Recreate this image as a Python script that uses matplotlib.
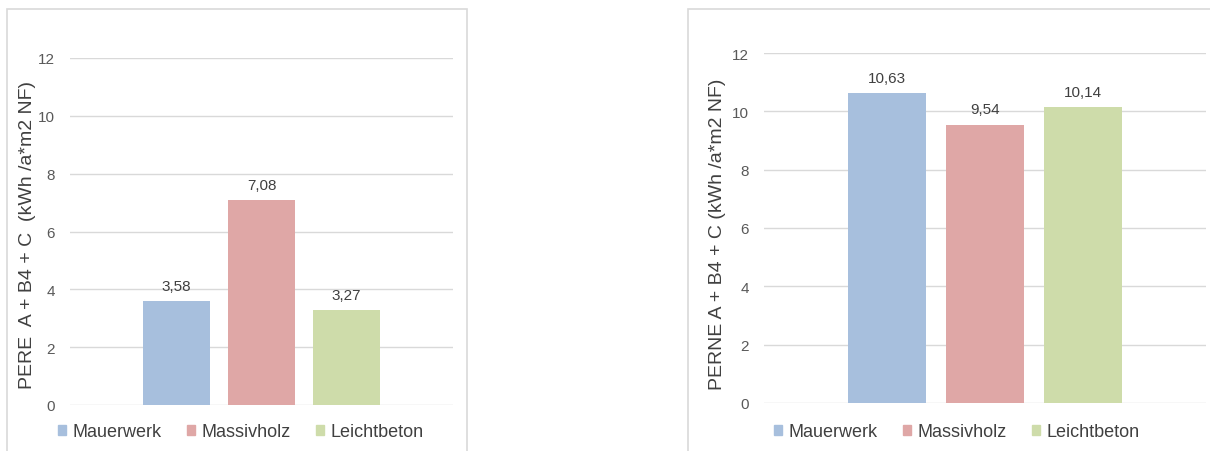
import numpy as np
import matplotlib.pyplot as plt
from matplotlib.patches import Rectangle, Patch

plt.rcParams['font.family'] = ['Liberation Sans', 'DejaVu Sans']

series = ['Mauerwerk', 'Massivholz', 'Leichtbeton']
colors = ['#a7bfdd', '#dfa7a6', '#cedcaa']
left_vals = [3.58, 7.08, 3.27]
right_vals = [10.63, 9.54, 10.14]
left_labels = ['3,58', '7,08', '3,27']
right_labels = ['10,63', '9,54', '10,14']
yticks = [0, 2, 4, 6, 8, 10, 12]

W, H = 1210, 452
fig = plt.figure(figsize=(W / 100, H / 100), dpi=100)

# panel borders
for x0, y0, x1, y1 in [(7, 10, 467, 460), (688, 10, 1220, 460)]:
    fig.patches.append(Rectangle((x0 / W, 1 - y1 / H), (x1 - x0) / W, (y1 - y0) / H,
                                 transform=fig.transFigure, fill=False,
                                 edgecolor='#d9d9d9', lw=1.2))

def panel(rect, vals, labels, ylabel, ylab_xy, leg_x):
    x0, ytop, x1, ybot = rect
    ax = fig.add_axes([x0 / W, 1 - ybot / H, (x1 - x0) / W, (ybot - ytop) / H])
    offs = np.array([-0.222, 0, 0.222])
    bars = ax.bar(offs, vals, width=0.175, color=colors, zorder=3)
    for b, t in zip(bars, labels):
        ax.annotate(t, (b.get_x() + b.get_width() / 2, b.get_height()),
                    xytext=(0, 6), textcoords='offset points',
                    ha='center', va='bottom', fontsize=11, color='#404040')
    ax.set_xlim(-0.5, 0.5)
    ax.set_ylim(0, 12)
    ax.set_yticks(yticks)
    ax.set_xticks([])
    ax.grid(axis='y', color='#d9d9d9', lw=1, zorder=0)
    for s in ax.spines.values():
        s.set_visible(False)
    ax.tick_params(axis='y', length=0, pad=11, labelsize=11, labelcolor='#595959')
    fig.text(ylab_xy[0] / W, 1 - ylab_xy[1] / H, ylabel, rotation=90,
             ha='center', va='center', fontsize=14, color='#404040')
    handles = [Patch(color=c) for c in colors]
    fig.legend(handles, series, loc='center', bbox_to_anchor=(leg_x / W, 1 - 433 / H),
               ncol=3, frameon=False, fontsize=13, handlelength=0.45, handleheight=0.45,
               handletextpad=0.35, columnspacing=1.4, labelcolor='#404040')
    return ax

panel((70, 59, 453, 406), left_vals, left_labels,
      'PERE  A + B4 + C  (kWh /a*m2 NF)', (28, 235), 241)
panel((764, 54, 1206, 404), right_vals, right_labels,
      'PERNE A + B4 + C (kWh /a*m2 NF)', (718, 234), 957)

fig.savefig('out.png', dpi=100)
